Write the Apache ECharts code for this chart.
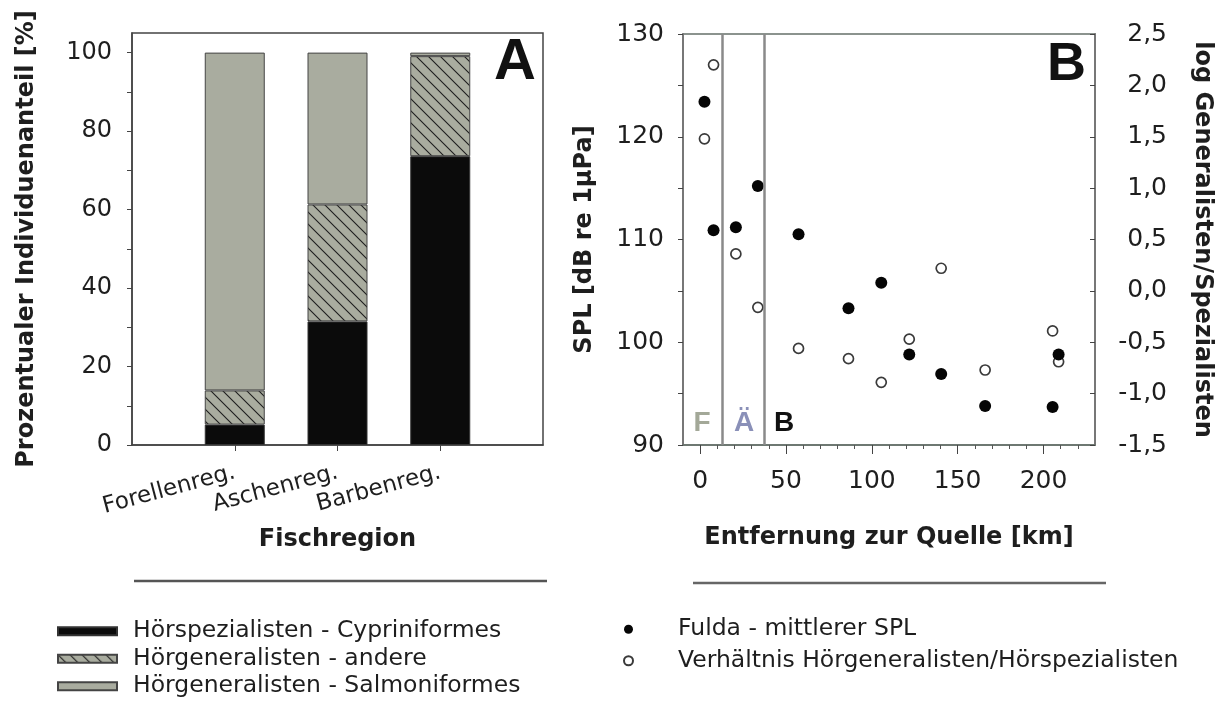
<!DOCTYPE html>
<html>
<head>
<meta charset="utf-8">
<script src="https://cdn.jsdelivr.net/npm/echarts@6/dist/echarts.min.js"></script>
<style>
html,body{margin:0;padding:0;background:#fff;}
#chart{width:1228px;height:702px;}
</style>
</head>
<body>
<div id="chart"></div>
<script>
// ---------- Panel A data ----------
const regions = ['', 'Forellenreg.', 'Aschenreg.', 'Barbenreg.', ''];
const cypriniformes = [null, 5.2, 31.5, 73.6, null];
const andere = [null, 8.7, 29.8, 25.5, null];
const salmoniformes = [null, 86.1, 38.7, 0.9, null];
const yTicksA = [0, 20, 40, 60, 80, 100];
const yMinorA = [0, 10, 20, 30, 40, 50, 60, 70, 80, 90, 100];

// ---------- Panel B data ----------
const distance = [2.5, 7.8, 20.8, 33.6, 57.3, 86.4, 105.5, 121.8, 140.4, 166, 205.3, 208.8];
const splMean = [123.4, 110.9, 111.2, 115.2, 110.5, 103.3, 105.8, 98.8, 96.9, 93.8, 93.7, 98.8];
const logRatio = [1.48, 2.20, 0.36, -0.16, -0.56, -0.66, -0.89, -0.47, 0.22, -0.77, -0.39, -0.69];
const regionBounds = [13, 37.5];
const xTicksB = [0, 50, 100, 150, 200];
const xMinorB = [10, 20, 30, 40, 60, 70, 80, 90, 110, 120, 130, 140, 160, 170, 180, 190, 210, 220];
const yTicksB = [90, 100, 110, 120, 130];
const yMinorB = [90, 95, 100, 105, 110, 115, 120, 125, 130];

const names = {
  cyp: 'Hörspezialisten - Cypriniformes',
  and: 'Hörgeneralisten - andere',
  sal: 'Hörgeneralisten - Salmoniformes',
  spl: 'Fulda - mittlerer SPL',
  rat: 'Verhältnis Hörgeneralisten/Hörspezialisten'
};

const GRAY = '#a9ac9f';
function hatch() {
  const c = document.createElement('canvas');
  c.width = 12; c.height = 12;
  const g = c.getContext('2d');
  g.fillStyle = GRAY; g.fillRect(0, 0, 12, 12);
  g.strokeStyle = '#1e1e1e'; g.lineWidth = 1.1;
  g.beginPath();
  g.moveTo(-1, -1); g.lineTo(13, 13);
  g.moveTo(-1, 11); g.lineTo(1, 13);
  g.moveTo(11, -1); g.lineTo(13, 1);
  g.stroke();
  return c;
}
const hatchPattern = { image: hatch(), repeat: 'repeat' };

const FONT = 'DejaVu Sans';
const TXT = '#1e1e1e';

const chart = echarts.init(document.getElementById('chart'), null, { renderer: 'canvas' });

const option = {
  animation: false,
  backgroundColor: '#fff',
  textStyle: { fontFamily: FONT, color: TXT },
  grid: [
    { left: 132, top: 33, width: 411, height: 412, show: true, borderColor: '#444', borderWidth: 1.5, backgroundColor: 'transparent' },
    { left: 683, top: 34, width: 412, height: 411, show: true, borderColor: '#66706a', borderWidth: 1.5, backgroundColor: 'transparent' }
  ],
  xAxis: [
    {
      gridIndex: 0, type: 'category', data: regions, boundaryGap: false, position: 'bottom',
      axisLine: { onZero: false, lineStyle: { color: '#444', width: 1.5 } },
      axisTick: { show: true, interval: (i, v) => v !== '', length: 6, lineStyle: { color: '#444' } },
      axisLabel: { interval: 0, rotate: 15, margin: 27, fontSize: 23, color: TXT, fontFamily: FONT },
      splitLine: { show: false },
      name: 'Fischregion', nameLocation: 'middle', nameGap: 83,
      nameTextStyle: { fontWeight: 'bold', fontSize: 24, color: TXT, fontFamily: FONT }
    },
    {
      gridIndex: 1, type: 'value', min: -10, max: 230, position: 'bottom',
      axisLine: { onZero: false, lineStyle: { color: '#66706a', width: 1.5 } },
      axisTick: { show: true, customValues: xTicksB, length: 9, lineStyle: { color: '#444' } },
      axisLabel: { customValues: xTicksB, margin: 24, fontSize: 25, color: TXT, fontFamily: FONT },
      splitLine: { show: false },
      name: 'Entfernung zur Quelle [km]', nameLocation: 'middle', nameGap: 81,
      nameTextStyle: { fontWeight: 'bold', fontSize: 24, color: TXT, fontFamily: FONT }
    },
    {
      gridIndex: 1, type: 'value', min: -10, max: 230, position: 'bottom',
      axisLine: { show: false, onZero: false },
      axisTick: { show: true, customValues: xMinorB, length: 4, lineStyle: { color: '#555' } },
      axisLabel: { show: false },
      splitLine: { show: false }
    }
  ],
  yAxis: [
    {
      gridIndex: 0, type: 'value', min: 0, max: 105, position: 'left',
      axisLine: { show: true, onZero: false, lineStyle: { color: '#444', width: 1.5 } },
      axisTick: { show: true, customValues: yMinorA, length: 5, lineStyle: { color: '#444' } },
      axisLabel: { customValues: yTicksA, margin: 20, fontSize: 24, color: TXT, fontFamily: FONT },
      splitLine: { show: false },
      name: 'Prozentualer Individuenanteil [%]', nameLocation: 'middle', nameGap: 93,
      nameTextStyle: { fontWeight: 'bold', fontSize: 24, color: TXT, fontFamily: FONT }
    },
    {
      gridIndex: 1, type: 'value', min: 90, max: 130, position: 'left',
      axisLine: { show: true, onZero: false, lineStyle: { color: '#777', width: 2 } },
      axisTick: { show: true, customValues: yMinorB, length: 5, lineStyle: { color: '#444' } },
      axisLabel: { customValues: yTicksB, margin: 19, fontSize: 25, color: TXT, fontFamily: FONT },
      splitLine: { show: false },
      name: 'SPL [dB re 1µPa]', nameLocation: 'middle', nameGap: 86,
      nameTextStyle: { fontWeight: 'bold', fontSize: 24, color: TXT, fontFamily: FONT }
    },
    {
      gridIndex: 1, type: 'value', position: 'right', min: -1.5, max: 2.5, interval: 0.5,
      axisLine: { show: true, onZero: false, lineStyle: { color: '#777', width: 2 } },
      axisTick: { show: true, inside: true, length: 5, lineStyle: { color: '#444' } },
      axisLabel: {
        formatter: v => v.toFixed(1).replace('.', ','), align: 'right', margin: 72,
        fontSize: 25, color: TXT, fontFamily: FONT
      },
      splitLine: { show: false },
      name: 'log Generalisten/Spezialisten', nameLocation: 'middle', nameGap: 95, nameRotate: -90,
      nameTextStyle: { fontWeight: 'bold', fontSize: 24, color: TXT, fontFamily: FONT }
    }
  ],
  legend: [
    {
      data: [names.cyp, names.and, names.sal],
      orient: 'vertical', left: 52, top: 614, height: 86, itemWidth: 59, itemHeight: 8, itemGap: 3,
      icon: 'rect', selectedMode: false,
      textStyle: { fontSize: 23.5, lineHeight: 24.5, color: TXT, fontFamily: FONT, padding: [0, 0, 0, 11] }
    },
    {
      data: [names.spl, names.rat],
      orient: 'vertical', left: 618, top: 612, height: 86, itemWidth: 9, itemHeight: 9, itemGap: 7,
      selectedMode: false,
      textStyle: { fontSize: 23.5, lineHeight: 24.5, color: TXT, fontFamily: FONT, padding: [0, 0, 0, 40] }
    }
  ],
  series: [
    {
      name: names.cyp, type: 'bar', xAxisIndex: 0, yAxisIndex: 0, stack: 'A', barWidth: 60,
      data: cypriniformes,
      itemStyle: { color: '#0b0b0b', borderColor: '#333', borderWidth: 1 }
    },
    {
      name: names.and, type: 'bar', xAxisIndex: 0, yAxisIndex: 0, stack: 'A', barWidth: 60,
      data: andere,
      itemStyle: { color: hatchPattern, borderColor: '#444', borderWidth: 1 }
    },
    {
      name: names.sal, type: 'bar', xAxisIndex: 0, yAxisIndex: 0, stack: 'A', barWidth: 60,
      data: salmoniformes,
      itemStyle: { color: GRAY, borderColor: '#444', borderWidth: 1 }
    },
    {
      name: names.rat, type: 'scatter', xAxisIndex: 1, yAxisIndex: 2,
      data: distance.map((d, i) => [d, logRatio[i]]),
      symbol: 'circle', symbolSize: 10,
      itemStyle: { color: '#fff', borderColor: '#3a3a3a', borderWidth: 1.7, opacity: 1 }
    },
    {
      name: names.spl, type: 'scatter', xAxisIndex: 1, yAxisIndex: 1,
      data: distance.map((d, i) => [d, splMean[i]]),
      symbol: 'circle', symbolSize: 12,
      itemStyle: { color: '#050505', opacity: 1 },
      markLine: {
        silent: true, symbol: ['none', 'none'], label: { show: false },
        lineStyle: { color: '#8a8a8a', width: 2.5, type: 'solid' },
        data: regionBounds.map(b => ({ xAxis: b }))
      }
    }
  ],
  graphic: [
    { type: 'line', shape: { x1: 134, y1: 581, x2: 547, y2: 581 }, style: { stroke: '#555', lineWidth: 2.5 } },
    { type: 'line', shape: { x1: 693, y1: 583, x2: 1106, y2: 583 }, style: { stroke: '#666', lineWidth: 2.5 } },
    { type: 'text', x: 536, y: 63, style: { text: 'A', font: 'bold 58px "Liberation Sans", Arial', fill: '#111', align: 'right', verticalAlign: 'middle' } },
    { type: 'text', x: 1086, y: 65, style: { text: 'B', font: 'bold 54px "Liberation Sans", Arial', fill: '#111', align: 'right', verticalAlign: 'middle' } },
    { type: 'text', x: 702, y: 423, style: { text: 'F', font: 'bold 28px "Liberation Sans", Arial', fill: '#a3a898', align: 'center', verticalAlign: 'middle' } },
    { type: 'text', x: 744, y: 423, style: { text: 'Ä', font: 'bold 28px "Liberation Sans", Arial', fill: '#8a90b8', align: 'center', verticalAlign: 'middle' } },
    { type: 'text', x: 784, y: 423, style: { text: 'B', font: 'bold 28px "Liberation Sans", Arial', fill: '#111', align: 'center', verticalAlign: 'middle' } }
  ]
};

chart.setOption(option);
</script>
</body>
</html>
